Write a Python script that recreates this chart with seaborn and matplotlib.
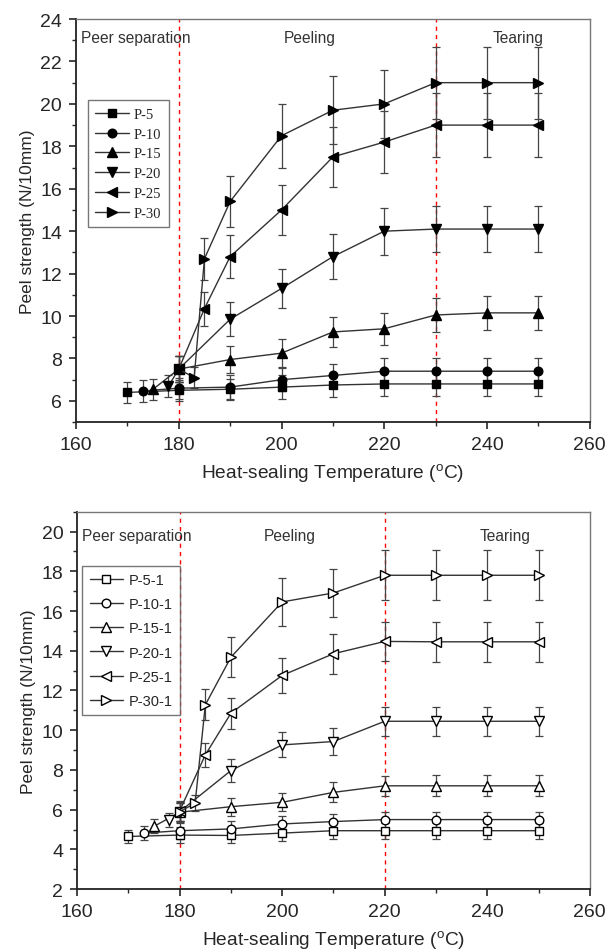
import matplotlib
matplotlib.use("Agg")
import pandas as pd
import seaborn as sns
import matplotlib.pyplot as plt
from matplotlib.ticker import MultipleLocator

# ---- top panel (filled markers) ----
names_top = ["P-5", "P-10", "P-15", "P-20", "P-25", "P-30"]

t_p5 = [170, 180, 190, 200, 210, 220, 230, 240, 250]
s_p5 = [6.4, 6.5, 6.55, 6.65, 6.75, 6.8, 6.8, 6.8, 6.8]
e_p5 = [0.5, 0.5, 0.5, 0.55, 0.55, 0.55, 0.55, 0.55, 0.55]

t_p10 = [173, 180, 190, 200, 210, 220, 230, 240, 250]
s_p10 = [6.47, 6.6, 6.65, 7.0, 7.2, 7.4, 7.4, 7.4, 7.4]
e_p10 = [0.5, 0.5, 0.55, 0.55, 0.55, 0.6, 0.6, 0.6, 0.6]

t_p15 = [175, 180, 190, 200, 210, 220, 230, 240, 250]
s_p15 = [6.55, 7.5, 7.95, 8.25, 9.25, 9.4, 10.05, 10.15, 10.15]
e_p15 = [0.5, 0.6, 0.65, 0.65, 0.7, 0.75, 0.8, 0.8, 0.8]

t_p20 = [178, 180, 190, 200, 210, 220, 230, 240, 250]
s_p20 = [6.7, 7.5, 9.85, 11.3, 12.8, 14.0, 14.1, 14.1, 14.1]
e_p20 = [0.5, 0.6, 0.8, 0.9, 1.05, 1.1, 1.1, 1.1, 1.1]

t_p25 = [180, 185, 190, 200, 210, 220, 230, 240, 250]
s_p25 = [7.5, 10.35, 12.8, 15.0, 17.5, 18.2, 19.0, 19.0, 19.0]
e_p25 = [0.6, 0.8, 1.0, 1.2, 1.4, 1.45, 1.5, 1.5, 1.5]

t_p30 = [180, 183, 185, 190, 200, 210, 220, 230, 240, 250]
s_p30 = [7.5, 7.1, 12.7, 15.4, 18.5, 19.7, 20.0, 21.0, 21.0, 21.0]
e_p30 = [0.6, 0.5, 1.0, 1.2, 1.5, 1.6, 1.6, 1.7, 1.7, 1.7]

# ---- bottom panel (open markers) ----
names_bot = ["P-5-1", "P-10-1", "P-15-1", "P-20-1", "P-25-1", "P-30-1"]

t_q5 = [170, 180, 190, 200, 210, 220, 230, 240, 250]
s_q5 = [4.65, 4.72, 4.7, 4.82, 4.94, 4.94, 4.94, 4.94, 4.94]
e_q5 = [0.35, 0.4, 0.4, 0.4, 0.4, 0.4, 0.4, 0.4, 0.4]

t_q10 = [173, 180, 190, 200, 210, 220, 230, 240, 250]
s_q10 = [4.82, 4.94, 5.03, 5.28, 5.4, 5.5, 5.5, 5.5, 5.5]
e_q10 = [0.35, 0.4, 0.4, 0.4, 0.4, 0.4, 0.4, 0.4, 0.4]

t_q15 = [175, 180, 190, 200, 210, 220, 230, 240, 250]
s_q15 = [5.16, 5.87, 6.15, 6.37, 6.87, 7.2, 7.2, 7.2, 7.2]
e_q15 = [0.35, 0.45, 0.45, 0.45, 0.5, 0.5, 0.52, 0.52, 0.52]

t_q20 = [178, 180, 190, 200, 210, 220, 230, 240, 250]
s_q20 = [5.49, 5.9, 7.97, 9.26, 9.43, 10.45, 10.45, 10.45, 10.45]
e_q20 = [0.35, 0.45, 0.58, 0.63, 0.69, 0.73, 0.73, 0.73, 0.73]

t_q25 = [180, 185, 190, 200, 210, 220, 230, 240, 250]
s_q25 = [5.95, 8.76, 10.86, 12.76, 13.85, 14.47, 14.45, 14.45, 14.45]
e_q25 = [0.5, 0.6, 0.78, 0.9, 1.0, 1.0, 1.0, 1.0, 1.0]

t_q30 = [180, 183, 185, 190, 200, 210, 220, 230, 240, 250]
s_q30 = [5.9, 6.32, 11.28, 13.68, 16.46, 16.91, 17.8, 17.8, 17.8, 17.8]
e_q30 = [0.5, 0.4, 0.78, 1.0, 1.2, 1.2, 1.26, 1.26, 1.26, 1.26]

markers = ["s", "o", "^", "v", "<", ">"]
msizes = [5.8, 6.2, 7, 7, 7, 7]

sns.set_style("ticks")
plt.rcParams["font.family"] = ["Liberation Sans", "DejaVu Sans"]
plt.rcParams["mathtext.fontset"] = "custom"
plt.rcParams["mathtext.rm"] = "Liberation Sans"

fig = plt.figure(figsize=(6.08, 9.53), dpi=100)
ax1 = fig.add_axes([0.125, 0.556, 0.845, 0.423])
ax2 = fig.add_axes([0.127, 0.066, 0.843, 0.396])

top_series = [(t_p5, s_p5, e_p5), (t_p10, s_p10, e_p10), (t_p15, s_p15, e_p15),
              (t_p20, s_p20, e_p20), (t_p25, s_p25, e_p25), (t_p30, s_p30, e_p30)]
bot_series = [(t_q5, s_q5, e_q5), (t_q10, s_q10, e_q10), (t_q15, s_q15, e_q15),
              (t_q20, s_q20, e_q20), (t_q25, s_q25, e_q25), (t_q30, s_q30, e_q30)]


def draw_panel(ax, series, names, face, ylim, vlines, text_y, text_x, leg_anchor, leg_kw):
    for (t, s, e), name, m, ms in zip(series, names, markers, msizes):
        df = pd.DataFrame({"T": t, "S": s})
        ax.errorbar(t, s, yerr=e, fmt="none", ecolor="#444444", elinewidth=0.9,
                    capsize=3, capthick=0.9, zorder=2)
        sns.lineplot(data=df, x="T", y="S", ax=ax, color="#333333", linewidth=1.0,
                     marker=m, markersize=ms, markerfacecolor=face,
                     markeredgecolor="black", markeredgewidth=1.0,
                     label=name, zorder=3)
    for v in vlines:
        ax.axvline(v, color="red", linestyle=(0, (3, 3)), linewidth=1.0, zorder=1)

    ax.set_xlim(160, 260)
    ax.set_ylim(*ylim)
    ax.xaxis.set_major_locator(MultipleLocator(20))
    ax.xaxis.set_minor_locator(MultipleLocator(10))
    ax.yaxis.set_major_locator(MultipleLocator(2))
    ax.yaxis.set_minor_locator(MultipleLocator(1))
    ax.tick_params(which="major", direction="out", length=5, width=1.2,
                   labelsize=14, pad=5)
    ax.tick_params(which="minor", direction="out", length=3, width=1.0)
    for side in ["left", "bottom"]:
        ax.spines[side].set_color("#222222")
        ax.spines[side].set_linewidth(1.3)
    for side in ["top", "right"]:
        ax.spines[side].set_color("#777777")
        ax.spines[side].set_linewidth(1.0)

    ax.set_xlabel("Heat-sealing Temperature ($^{\\rm o}$C)", fontsize=13.8, labelpad=6)
    ax.set_ylabel("Peel strength (N/10mm)", fontsize=12.5)

    ax.text(161, text_y, "Peer separation", fontsize=11.2, color="#333333",
            ha="left", va="center")
    ax.text(text_x[0], text_y, "Peeling", fontsize=11.2, color="#333333",
            ha="center", va="center")
    ax.text(text_x[1], text_y, "Tearing", fontsize=11.2, color="#333333",
            ha="center", va="center")

    leg = ax.legend(loc="upper left", bbox_to_anchor=leg_anchor, borderaxespad=0,
                    fancybox=False, frameon=True, **leg_kw)
    leg.get_frame().set_edgecolor("#555555")
    leg.get_frame().set_linewidth(1.0)


draw_panel(ax1, top_series, names_top, "black", (5, 24), [180, 230], 23.15,
           (205.5, 246), (0.023, 0.798),
           dict(prop={"family": "Liberation Serif", "size": 10.5}, handlelength=2.3,
                labelspacing=0.45, handletextpad=0.35, borderpad=0.5))
draw_panel(ax2, bot_series, names_bot, "white", (2, 21), [180, 220], 19.8,
           (201.5, 243.5), (0.01, 0.857),
           dict(prop={"family": "Liberation Sans", "size": 10.5}, handlelength=2.3,
                labelspacing=0.7, handletextpad=0.35, borderpad=0.5))

fig.savefig("out.png", dpi=100)
